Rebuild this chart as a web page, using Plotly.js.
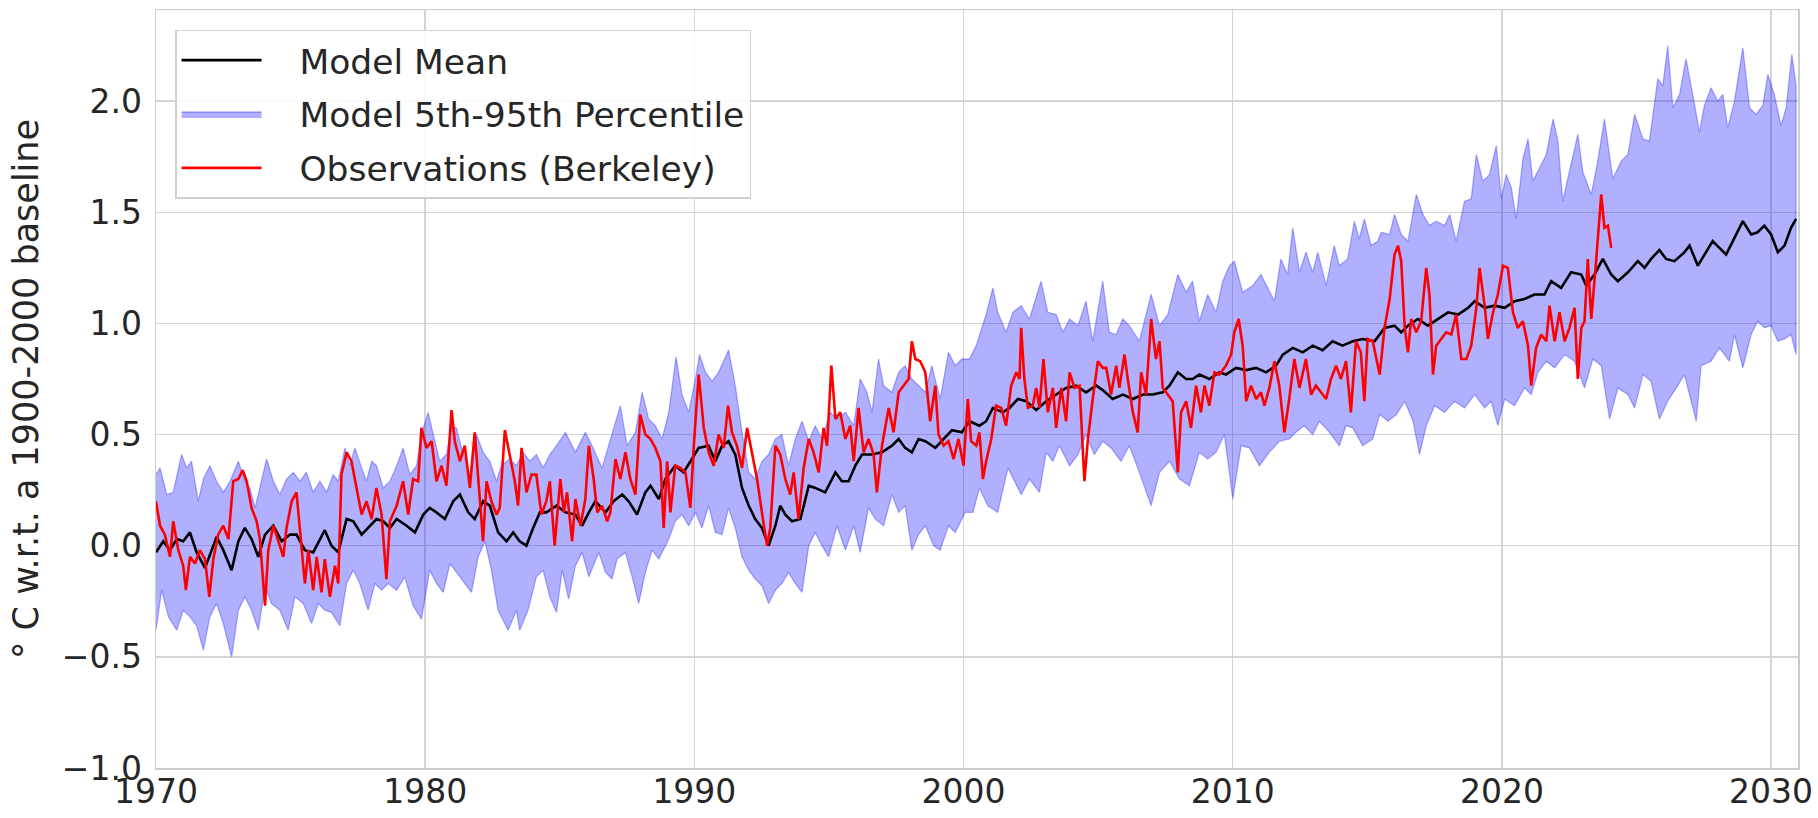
<!DOCTYPE html>
<html>
<head>
<meta charset="utf-8">
<script src="https://cdn.plot.ly/plotly-3.0.1.min.js"></script>
<style>
html,body{margin:0;padding:0;background:#ffffff;}
#chart{width:1818px;height:818px;}
</style>
</head>
<body>
<div id="chart"></div>
<script>
// ---------------- DATA ----------------
const obsYears = [
1970.00,1970.15,1970.33,1970.52,1970.64,1970.83,1971.01,1971.11,1971.26,1971.45,1971.63,1971.82,1971.98,1972.13,1972.31,1972.50,1972.69,1972.87,1973.06,1973.22,1973.37,1973.55,1973.74,1973.86,1974.05,1974.17,1974.36,1974.54,1974.73,1974.85,1975.04,1975.22,1975.35,1975.53,1975.66,1975.84,1975.97,1976.15,1976.27,1976.46,1976.65,1976.77,1976.89,1977.08,1977.26,1977.45,1977.64,1977.82,1978.01,1978.19,1978.38,1978.56,1978.69,1978.94,1979.18,1979.37,1979.55,1979.74,1979.86,1980.05,1980.24,1980.42,1980.61,1980.79,1980.98,1981.10,1981.29,1981.47,1981.66,1981.84,1981.97,1982.15,1982.28,1982.46,1982.65,1982.77,1982.96,1983.14,1983.33,1983.45,1983.58,1983.76,1983.95,1984.13,1984.32,1984.50,1984.63,1984.81,
1985.02,1985.15,1985.27,1985.46,1985.58,1985.77,1985.95,1986.08,1986.26,1986.39,1986.57,1986.76,1986.88,1987.07,1987.25,1987.44,1987.62,1987.81,1987.99,1988.18,1988.37,1988.55,1988.74,1988.86,1988.99,1989.11,1989.29,1989.48,1989.67,1989.85,1989.98,1990.16,1990.35,1990.53,1990.72,1990.90,1991.09,1991.25,1991.40,1991.58,1991.77,1991.96,1992.14,1992.33,1992.51,1992.70,1992.82,1993.01,1993.19,1993.38,1993.56,1993.69,1993.87,1994.06,1994.25,1994.43,1994.62,1994.80,1994.93,1995.09,1995.24,1995.42,1995.61,1995.79,1995.92,1996.10,1996.29,1996.47,1996.66,1996.78,1996.97,1997.22,1997.40,1997.59,1997.77,1997.96,1998.08,1998.21,1998.39,1998.58,1998.76,1998.95,1999.07,1999.26,1999.44,1999.63,1999.81,2000.00,
2000.16,2000.28,2000.47,2000.59,2000.72,2000.84,2001.03,2001.21,2001.40,2001.58,2001.77,2001.96,2002.08,2002.14,2002.26,2002.39,2002.57,2002.70,2002.82,2002.97,2003.13,2003.32,2003.44,2003.63,2003.81,2003.94,2004.12,2004.31,2004.49,2004.62,2004.80,2004.99,2005.17,2005.30,2005.48,2005.67,2005.79,2005.98,2006.10,2006.29,2006.47,2006.60,2006.78,2006.97,2007.15,2007.28,2007.40,2007.59,2007.77,2007.96,2008.08,2008.27,2008.45,2008.64,2008.82,2008.95,2009.13,2009.32,2009.50,2009.75,2009.94,2010.06,2010.22,2010.37,2010.50,2010.68,2010.87,2011.05,2011.18,2011.36,2011.55,2011.73,2011.92,2012.10,2012.29,2012.48,2012.72,2012.91,2013.09,2013.28,2013.47,2013.65,2013.84,2014.02,2014.21,2014.39,2014.58,2014.76,2014.89,2015.01,2015.20,
2015.46,2015.64,2015.83,2016.01,2016.14,2016.26,2016.39,2016.51,2016.63,2016.82,2017.00,2017.19,2017.31,2017.44,2017.56,2017.75,2017.93,2018.12,2018.30,2018.49,2018.68,2018.86,2019.05,2019.17,2019.36,2019.48,2019.67,2019.85,2020.04,2020.22,2020.41,2020.59,2020.78,2020.97,2021.09,2021.27,2021.46,2021.65,2021.77,2021.96,2022.14,2022.33,2022.51,2022.70,2022.82,2022.95,2023.07,2023.19,2023.32,2023.50,2023.69,2023.81,2023.94,2024.06
];
const obsValues = [
0.20,0.09,0.05,-0.05,0.11,-0.02,-0.09,-0.20,-0.05,-0.08,-0.02,-0.06,-0.23,-0.06,0.05,0.09,0.03,0.29,0.30,0.34,0.29,0.17,0.11,0.03,-0.27,-0.02,0.09,0.02,-0.05,0.08,0.20,0.24,0.06,-0.17,-0.02,-0.20,-0.05,-0.21,-0.06,-0.23,-0.09,-0.17,0.32,0.42,0.38,0.26,0.14,0.20,0.12,0.26,0.14,-0.15,0.11,0.18,0.29,0.14,0.30,0.29,0.53,0.44,0.47,0.29,0.36,0.27,0.61,0.47,0.38,0.45,0.26,0.51,0.29,0.02,0.29,0.20,0.14,0.17,0.52,0.41,0.29,0.18,0.44,0.24,0.32,0.32,0.14,0.20,0.29,0.00,
0.30,0.15,0.24,0.02,0.21,0.09,0.21,0.45,0.30,0.15,0.18,0.11,0.15,0.39,0.30,0.42,0.30,0.23,0.59,0.50,0.48,0.44,0.38,0.08,0.38,0.15,0.36,0.35,0.33,0.17,0.45,0.77,0.53,0.42,0.36,0.50,0.44,0.63,0.51,0.45,0.35,0.53,0.41,0.30,0.15,0.00,0.08,0.45,0.41,0.30,0.23,0.33,0.12,0.35,0.48,0.42,0.33,0.53,0.45,0.81,0.57,0.60,0.48,0.54,0.38,0.62,0.42,0.48,0.41,0.24,0.45,0.62,0.51,0.69,0.72,0.75,0.92,0.84,0.83,0.78,0.56,0.72,0.50,0.45,0.47,0.39,0.48,0.36,
0.66,0.47,0.45,0.51,0.30,0.38,0.48,0.63,0.62,0.54,0.72,0.78,0.75,0.98,0.75,0.62,0.63,0.71,0.62,0.84,0.60,0.71,0.53,0.71,0.56,0.78,0.71,0.72,0.29,0.48,0.66,0.83,0.80,0.80,0.68,0.81,0.71,0.86,0.75,0.60,0.51,0.78,0.68,1.02,0.84,0.92,0.71,0.68,0.65,0.33,0.60,0.65,0.53,0.72,0.60,0.72,0.63,0.78,0.77,0.81,0.86,0.96,1.02,0.90,0.65,0.72,0.66,0.69,0.63,0.71,0.83,0.72,0.51,0.66,0.84,0.71,0.84,0.68,0.72,0.69,0.66,0.75,0.81,0.75,0.83,0.60,0.92,0.87,0.65,0.93,0.92,
0.77,0.98,1.11,1.31,1.35,1.28,0.98,0.87,1.02,0.96,1.01,1.25,1.13,0.77,0.90,0.93,0.96,0.95,1.04,0.84,0.84,0.90,1.07,1.25,1.08,0.93,1.05,1.13,1.26,1.25,1.05,0.98,1.01,0.90,0.72,0.89,0.95,0.92,1.08,0.92,1.05,0.92,0.98,1.07,0.75,0.98,1.01,1.29,1.02,1.28,1.58,1.43,1.44,1.34
];

const meanYears = [
1970.00,1970.27,1970.52,1970.77,1971.01,1971.26,1971.51,1971.82,1972.07,1972.25,1972.50,1972.81,1973.06,1973.30,1973.55,1973.80,1974.05,1974.36,1974.67,1974.98,1975.22,1975.53,1975.84,1976.09,1976.27,1976.52,1976.77,1977.08,1977.33,1977.64,1977.95,1978.19,1978.44,1978.69,1978.94,1979.31,1979.62,1979.93,1980.17,1980.42,1980.73,1981.04,1981.29,1981.60,1981.84,1982.15,1982.40,1982.71,1983.02,1983.27,1983.51,1983.76,1984.01,1984.26,1984.50,1984.88,
1985.21,1985.58,1985.83,1986.08,1986.32,1986.70,1987.00,1987.32,1987.56,1987.87,1988.18,1988.37,1988.68,1988.92,1989.29,1989.60,1989.91,1990.16,1990.53,1990.78,1991.03,1991.27,1991.52,1991.77,1992.02,1992.26,1992.51,1992.76,1993.01,1993.19,1993.38,1993.63,1993.94,1994.25,1994.49,1994.86,1995.24,1995.48,1995.73,1995.98,1996.23,1996.60,1996.97,1997.34,1997.59,1997.83,1998.08,1998.33,1998.58,1998.95,1999.26,1999.57,1999.94,
2000.22,2000.59,2000.84,2001.09,2001.46,2001.71,2002.02,2002.33,2002.70,2003.07,2003.44,2003.81,2004.18,2004.55,2004.93,2005.17,2005.54,2005.92,2006.29,2006.66,2007.03,2007.40,2007.65,2007.96,2008.27,2008.51,2008.76,2009.13,2009.50,2009.75,2010.12,2010.50,2010.87,2011.24,2011.61,2011.86,2012.23,2012.60,2012.97,2013.34,2013.71,2014.08,2014.46,2014.83,
2015.27,2015.64,2016.01,2016.26,2016.51,2016.88,2017.25,2017.62,2018.00,2018.37,2018.74,2018.99,2019.36,2019.73,2020.10,2020.47,2020.84,2021.21,2021.58,2021.83,2022.20,2022.57,2022.95,2023.13,2023.44,2023.75,2024.06,2024.31,2024.68,2025.05,2025.30,2025.54,2025.85,2026.10,2026.41,2026.78,2026.97,2027.28,2027.52,2027.83,2028.08,2028.33,2028.58,2028.95,2029.26,2029.50,2029.75,2030.00,2030.25,2030.50,2030.74,2030.93
];
const meanValues = [
-0.03,0.02,-0.02,0.03,0.02,0.06,-0.03,-0.10,-0.02,0.04,-0.02,-0.11,0.02,0.08,0.03,-0.05,0.05,0.09,0.02,0.05,0.05,-0.02,-0.03,0.03,0.07,0.00,-0.03,0.12,0.11,0.05,0.09,0.12,0.11,0.08,0.12,0.09,0.06,0.14,0.17,0.15,0.12,0.20,0.23,0.15,0.12,0.20,0.18,0.06,0.02,0.06,0.02,0.00,0.08,0.15,0.15,0.18,
0.15,0.14,0.09,0.15,0.20,0.15,0.20,0.23,0.20,0.14,0.24,0.27,0.21,0.30,0.36,0.33,0.39,0.44,0.45,0.38,0.45,0.47,0.41,0.26,0.18,0.12,0.08,0.00,0.09,0.18,0.14,0.11,0.12,0.27,0.26,0.24,0.33,0.29,0.29,0.36,0.41,0.41,0.42,0.45,0.48,0.44,0.42,0.48,0.47,0.44,0.48,0.52,0.51,
0.56,0.54,0.56,0.62,0.60,0.62,0.66,0.65,0.61,0.65,0.68,0.71,0.72,0.69,0.72,0.70,0.66,0.68,0.66,0.68,0.68,0.69,0.72,0.78,0.75,0.75,0.77,0.75,0.78,0.77,0.80,0.79,0.80,0.78,0.81,0.86,0.89,0.87,0.90,0.88,0.92,0.90,0.92,0.93,
0.92,0.98,0.99,0.96,0.99,1.02,0.99,1.02,1.05,1.04,1.07,1.10,1.07,1.08,1.07,1.10,1.11,1.13,1.13,1.19,1.16,1.23,1.22,1.17,1.22,1.29,1.22,1.19,1.23,1.28,1.25,1.29,1.33,1.29,1.28,1.32,1.35,1.26,1.31,1.37,1.34,1.31,1.37,1.46,1.40,1.41,1.44,1.40,1.32,1.35,1.43,1.47
];

const upperYears = [
1970.00,1970.15,1970.40,1970.64,1970.95,1971.14,1971.32,1971.57,1971.76,1972.00,1972.25,1972.50,1972.75,1973.06,1973.30,1973.49,1973.68,1973.92,1974.11,1974.36,1974.60,1974.85,1975.10,1975.35,1975.59,1975.84,1976.09,1976.34,1976.58,1976.77,1977.02,1977.20,1977.39,1977.64,1977.82,1978.01,1978.19,1978.44,1978.69,1978.94,1979.18,1979.43,1979.68,1979.86,1980.11,1980.30,1980.54,1980.79,1980.98,1981.16,1981.35,1981.66,1981.91,1982.15,1982.40,1982.65,1982.83,1983.14,1983.39,1983.64,1983.89,1984.13,1984.38,1984.63,1984.88,
1985.21,1985.58,1985.95,1986.20,1986.57,1987.00,1987.25,1987.50,1987.81,1988.06,1988.30,1988.55,1988.80,1989.05,1989.32,1989.54,1989.79,1990.04,1990.19,1990.41,1990.66,1990.90,1991.27,1991.52,1991.77,1992.02,1992.26,1992.51,1992.76,1993.01,1993.25,1993.50,1993.75,1994.00,1994.25,1994.49,1994.74,1995.05,1995.30,1995.61,1995.92,1996.16,1996.41,1996.60,1996.84,1997.03,1997.34,1997.59,1997.83,1998.08,1998.33,1998.58,1998.82,1999.13,1999.44,1999.69,1999.94,
2000.22,2000.47,2000.84,2001.09,2001.27,2001.58,2001.83,2002.14,2002.45,2002.88,2003.13,2003.44,2003.69,2003.94,2004.25,2004.55,2004.80,2005.17,2005.42,2005.67,2005.92,2006.16,2006.53,2006.97,2007.28,2007.59,2007.96,2008.27,2008.51,2008.76,2009.07,2009.38,2009.63,2009.88,2010.06,2010.37,2010.74,2011.05,2011.30,2011.55,2011.79,2012.04,2012.23,2012.48,2012.72,2012.97,2013.16,2013.47,2013.77,2013.96,2014.27,2014.52,2014.70,2014.89,2015.14,2015.38,
2015.52,2015.83,2016.01,2016.26,2016.51,2016.82,2017.07,2017.31,2017.56,2017.87,2018.06,2018.30,2018.61,2018.86,2019.05,2019.29,2019.54,2019.79,2019.98,2020.16,2020.35,2020.53,2020.78,2020.97,2021.15,2021.40,2021.65,2021.90,2022.08,2022.26,2022.51,2022.82,2023.01,2023.32,2023.56,2023.81,2024.12,2024.43,2024.68,2024.93,2025.24,2025.48,2025.79,2025.98,2026.16,2026.35,2026.60,2026.84,2027.09,2027.34,2027.52,2027.77,2028.02,2028.21,2028.39,2028.64,2028.95,2029.20,2029.44,2029.69,2029.88,2030.12,2030.37,2030.56,2030.77,2030.93
];
const upperValues = [
0.32,0.35,0.23,0.24,0.41,0.35,0.38,0.20,0.30,0.36,0.29,0.24,0.29,0.38,0.29,0.26,0.17,0.30,0.39,0.29,0.23,0.30,0.33,0.29,0.33,0.24,0.29,0.24,0.32,0.29,0.44,0.36,0.44,0.35,0.29,0.38,0.36,0.26,0.29,0.36,0.44,0.32,0.36,0.50,0.60,0.50,0.38,0.41,0.54,0.53,0.44,0.32,0.50,0.42,0.38,0.29,0.36,0.39,0.36,0.42,0.38,0.41,0.35,0.41,0.45,
0.51,0.42,0.51,0.45,0.35,0.53,0.63,0.45,0.51,0.69,0.57,0.54,0.48,0.60,0.85,0.68,0.60,0.75,0.86,0.78,0.74,0.78,0.88,0.72,0.51,0.33,0.30,0.38,0.41,0.48,0.50,0.36,0.48,0.56,0.47,0.54,0.48,0.60,0.57,0.60,0.54,0.75,0.69,0.60,0.84,0.72,0.69,0.78,0.81,0.75,0.72,0.69,0.81,0.66,0.87,0.81,0.84,
0.84,0.90,1.04,1.16,1.05,0.96,1.05,1.08,1.02,1.19,1.05,1.04,0.96,1.02,0.99,1.10,0.92,1.19,0.96,0.95,1.02,0.99,0.92,1.13,0.99,1.04,1.22,1.14,1.19,1.01,1.13,1.05,1.19,1.26,1.28,1.14,1.17,1.22,1.16,1.10,1.29,1.22,1.43,1.23,1.32,1.23,1.32,1.17,1.35,1.26,1.29,1.46,1.38,1.47,1.35,1.37,
1.41,1.40,1.49,1.40,1.37,1.58,1.49,1.44,1.46,1.44,1.49,1.37,1.55,1.56,1.76,1.64,1.67,1.80,1.56,1.67,1.61,1.47,1.74,1.83,1.64,1.70,1.76,1.92,1.82,1.55,1.68,1.85,1.68,1.58,1.73,1.92,1.65,1.73,1.76,1.94,1.83,1.82,2.10,2.07,2.25,1.97,2.03,2.19,2.03,1.86,1.98,2.06,2.00,2.03,1.88,2.00,2.24,1.97,1.94,1.98,2.12,2.03,1.89,1.97,2.21,2.07
];

const lowerYears = [
1970.00,1970.21,1970.46,1970.77,1971.01,1971.26,1971.51,1971.76,1972.00,1972.25,1972.50,1972.81,1973.06,1973.30,1973.55,1973.80,1974.05,1974.29,1974.60,1974.91,1975.16,1975.47,1975.78,1976.03,1976.27,1976.52,1976.83,1977.08,1977.33,1977.57,1977.88,1978.13,1978.38,1978.63,1978.94,1979.24,1979.55,1979.86,1980.17,1980.42,1980.67,1980.92,1981.16,1981.47,1981.72,1981.97,1982.22,1982.46,1982.71,1983.08,1983.39,1983.51,1983.82,1984.13,1984.38,1984.63,1984.88,
1985.09,1985.33,1985.58,1985.83,1986.08,1986.45,1986.70,1986.94,1987.13,1987.44,1987.69,1987.93,1988.18,1988.43,1988.68,1989.05,1989.29,1989.54,1989.79,1990.04,1990.28,1990.53,1990.78,1991.03,1991.27,1991.52,1991.77,1992.02,1992.26,1992.51,1992.76,1993.01,1993.25,1993.50,1993.75,1994.00,1994.25,1994.49,1994.74,1994.99,1995.30,1995.61,1995.92,1996.16,1996.47,1996.72,1997.03,1997.34,1997.59,1997.83,1998.08,1998.33,1998.58,1998.89,1999.13,1999.44,1999.69,2000.06,
2000.35,2000.59,2000.90,2001.27,2001.65,2002.14,2002.45,2002.82,2003.07,2003.32,2003.56,2003.94,2004.25,2004.55,2004.86,2005.17,2005.48,2005.85,2006.16,2006.53,2006.97,2007.28,2007.65,2008.02,2008.39,2008.76,2009.07,2009.38,2009.69,2010.00,2010.31,2010.62,2010.99,2011.36,2011.73,2012.10,2012.35,2012.66,2012.97,2013.22,2013.59,2013.96,2014.21,2014.46,2014.83,2015.20,
2015.46,2015.77,2016.08,2016.39,2016.70,2016.94,2017.19,2017.50,2017.87,2018.24,2018.61,2018.99,2019.36,2019.60,2019.85,2020.10,2020.47,2020.84,2021.09,2021.34,2021.65,2021.96,2022.33,2022.70,2023.07,2023.38,2023.69,2024.00,2024.31,2024.68,2024.93,2025.24,2025.54,2025.85,2026.16,2026.53,2026.78,2027.22,2027.40,2027.77,2028.08,2028.45,2028.64,2028.95,2029.26,2029.50,2029.75,2030.00,2030.25,2030.50,2030.74,2030.93
];
const lowerValues = [
-0.38,-0.20,-0.32,-0.38,-0.29,-0.32,-0.36,-0.47,-0.32,-0.26,-0.35,-0.50,-0.29,-0.23,-0.29,-0.38,-0.18,-0.26,-0.29,-0.38,-0.23,-0.26,-0.35,-0.26,-0.29,-0.30,-0.36,-0.17,-0.11,-0.17,-0.29,-0.17,-0.20,-0.17,-0.20,-0.14,-0.27,-0.33,-0.11,-0.17,-0.21,-0.08,-0.12,-0.17,-0.21,-0.05,0.02,-0.11,-0.29,-0.38,-0.29,-0.38,-0.29,-0.14,-0.11,-0.23,-0.30,
-0.11,-0.24,-0.09,-0.03,-0.14,-0.03,-0.12,-0.15,-0.06,-0.03,-0.14,-0.26,-0.12,-0.02,-0.06,0.03,0.11,0.14,0.09,0.15,0.08,0.18,0.06,0.05,0.17,0.08,-0.05,-0.11,-0.15,-0.18,-0.26,-0.20,-0.17,-0.12,-0.17,-0.21,0.00,0.06,0.00,-0.05,0.09,-0.02,0.09,-0.03,0.17,0.12,0.09,0.23,0.15,0.18,-0.02,0.05,0.09,0.00,-0.02,0.09,0.06,0.15,
0.15,0.26,0.18,0.15,0.35,0.23,0.30,0.24,0.42,0.38,0.45,0.36,0.41,0.50,0.41,0.47,0.44,0.38,0.45,0.33,0.18,0.33,0.38,0.30,0.27,0.42,0.39,0.42,0.50,0.21,0.45,0.44,0.36,0.42,0.47,0.48,0.51,0.54,0.50,0.56,0.51,0.45,0.54,0.53,0.45,0.48,
0.59,0.56,0.59,0.65,0.56,0.41,0.54,0.63,0.60,0.65,0.62,0.68,0.62,0.65,0.54,0.66,0.63,0.71,0.68,0.78,0.83,0.80,0.86,0.83,0.71,0.84,0.81,0.57,0.71,0.68,0.62,0.77,0.74,0.57,0.65,0.72,0.77,0.56,0.81,0.83,0.89,0.83,0.95,0.80,0.95,1.01,0.98,0.99,0.92,0.93,0.95,0.86
];

const xTickVals = [1970, 1980, 1990, 2000, 2010, 2020, 2030];
const xTickText = ['1970', '1980', '1990', '2000', '2010', '2020', '2030'];
const yTickVals = [-1.0, -0.5, 0.0, 0.5, 1.0, 1.5, 2.0];
const yTickText = ['\u22121.0', '\u22120.5', '0.0', '0.5', '1.0', '1.5', '2.0'];

const seriesNames = ['Model Mean', 'Model 5th-95th Percentile', 'Observations (Berkeley)'];
const yAxisLabel = '\u00b0 C w.r.t. a 1900-2000 baseline';

// ---------------- CHART ----------------
const FONT = 'DejaVu Sans, Liberation Sans, Arial, sans-serif';
const GAP = '\u00a0\u00a0\u00a0';   // spacing between legend symbol and label

// percentile band: closed polygon, upper edge then lower edge reversed
const bandX = upperYears.concat(lowerYears.slice().reverse());
const bandY = upperValues.concat(lowerValues.slice().reverse());

const traces = [
  {
    x: bandX, y: bandY, type: 'scatter', mode: 'lines',
    fill: 'toself', fillcolor: 'rgba(0,0,255,0.31)',
    line: {color: 'rgba(0,0,255,0.30)', width: 1.3},
    name: GAP + seriesNames[1], legendrank: 2, legendgroup: 'b',
    hoverinfo: 'skip'
  },
  {
    x: meanYears, y: meanValues, type: 'scatter', mode: 'lines',
    line: {color: '#000000', width: 2.6},
    name: GAP + seriesNames[0], legendrank: 1, legendgroup: 'a'
  },
  {
    x: obsYears, y: obsValues, type: 'scatter', mode: 'lines',
    line: {color: '#ff0000', width: 2.6},
    name: GAP + seriesNames[2], legendrank: 3, legendgroup: 'c'
  }
];

const layout = {
  width: 1818, height: 818,
  margin: {l: 156, r: 20, t: 10, b: 50, pad: 0},
  paper_bgcolor: '#ffffff', plot_bgcolor: '#ffffff',
  font: {family: FONT, size: 33, color: '#262626'},
  showlegend: true,
  legend: {
    x: 0.0116, y: 0.974, xanchor: 'left', yanchor: 'top',
    bgcolor: 'rgba(255,255,255,0.85)', bordercolor: '#d0d0d0', borderwidth: 1.5,
    font: {family: FONT, size: 34.5, color: '#262626'},
    traceorder: 'grouped', tracegroupgap: 6, itemwidth: 80
  },
  xaxis: {
    range: [1970, 2031], tickmode: 'array', tickvals: xTickVals, ticktext: xTickText,
    showgrid: true, gridcolor: '#d4d4d4', gridwidth: 1.5,
    zeroline: false, showline: true, mirror: true, linecolor: '#cccccc', linewidth: 1.5,
    ticks: '', ticklabelstandoff: -6, tickfont: {family: FONT, size: 33, color: '#262626'}
  },
  yaxis: {
    range: [-1.0, 2.41], tickmode: 'array', tickvals: yTickVals, ticktext: yTickText,
    showgrid: true, gridcolor: '#d4d4d4', gridwidth: 1.5,
    zeroline: false, showline: true, mirror: true, linecolor: '#cccccc', linewidth: 1.5,
    ticks: '', ticklabelstandoff: 6, tickfont: {family: FONT, size: 33, color: '#262626'},
    title: {text: yAxisLabel, font: {family: FONT, size: 35, color: '#262626'}, standoff: 12}
  }
};

Plotly.newPlot('chart', traces, layout, {displayModeBar: false, staticPlot: true});
</script>
</body>
</html>
